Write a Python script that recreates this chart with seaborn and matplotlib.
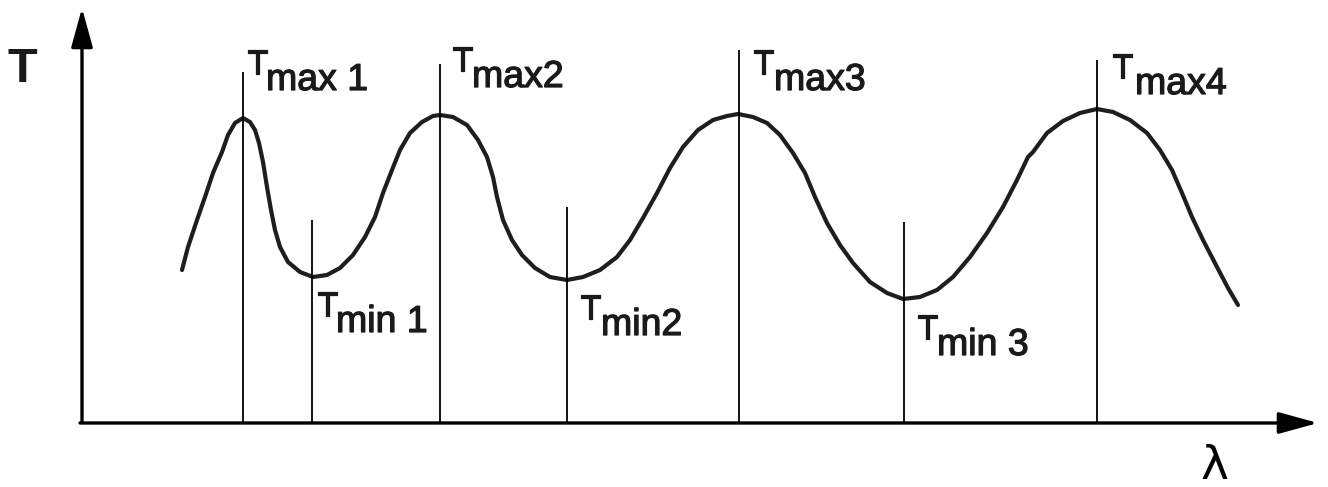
import matplotlib
matplotlib.use("Agg")
import matplotlib.pyplot as plt
import matplotlib.patheffects as pe
import pandas as pd
import seaborn as sns

# Transmission curve T(λ), arbitrary units (λ from the origin, T above the λ axis)
wavelength = [102, 108, 117, 125, 133, 142, 148, 155, 163, 170, 175, 179, 183, 187,
              191, 195, 200, 208, 220, 233, 247, 260, 273, 285, 295, 303, 312, 320,
              330, 342, 353, 360,
              373, 387, 398, 407, 413, 417, 423, 432, 442, 455, 470, 487, 503, 520,
              537, 550, 563, 577, 590, 603, 618, 633, 647, 658,
              673, 687, 700, 713, 725, 735, 747, 760, 773, 790, 807, 823, 840, 857,
              873, 890, 907, 923, 937, 948,
              953, 967, 983, 1000, 1017, 1033, 1050, 1067, 1080, 1092, 1102, 1112,
              1123, 1137, 1148, 1158]
transmission = [152, 175, 202, 225, 249, 270, 287, 299, 304, 300, 292, 279, 260, 235,
                212, 192, 175, 160, 150, 145, 147, 154, 167, 185, 205, 229, 252, 272,
                289, 300, 306, 307,
                305, 297, 282, 265, 245, 225, 202, 182, 167, 154, 145, 142, 145, 152,
                165, 182, 204, 229, 254, 275, 292, 302, 306, 308,
                305, 299, 287, 269, 249, 225, 199, 177, 159, 140, 129, 123, 125, 132,
                145, 165, 189, 215, 242, 265,
                270, 289, 301, 309, 313, 310, 302, 289, 272, 252, 229, 205,
                182, 155, 134, 117]

# Extremum markers: name, position on λ axis, height of the marker line
extrema = ["max 1", "min 1", "max2", "min2", "max3", "min 3", "max4"]
extrema_pos = [163, 232, 360, 487, 659, 824, 1017]
extrema_line_top = [350, 202, 358, 215, 372, 200, 362]

# Label anchors (left edge of the "T", top of the "T")
label_x = [167, 237, 372, 500, 673, 837, 1032]
label_top = [374, 132, 377, 129, 374, 109, 370]
sub_dx = [19, 19, 20, 21, 21, 20, 23]

sns.set_theme(style="white")
plt.rcParams["font.family"] = ["Liberation Sans", "DejaVu Sans"]

fig = plt.figure(figsize=(13.28, 4.87), dpi=100)
ax = fig.add_axes([0, 0, 1, 1])
ax.set_xlim(-80, 1248)
ax.set_ylim(-65, 422)
ax.axis("off")

df = pd.DataFrame({"λ": wavelength, "T": transmission})
sns.lineplot(data=df, x="λ", y="T", ax=ax, sort=False, estimator=None,
             color="#1e1e1e", linewidth=3.0, solid_capstyle="round",
             solid_joinstyle="round")

# vertical marker lines at the extrema
ax.vlines(extrema_pos, 0, extrema_line_top, color="black", linewidth=1.3)

# axes with arrow heads
arrow_style = "-|>,head_length=0.8,head_width=0.22"
ax.annotate("", xy=(2, 414), xytext=(2, 0),
            arrowprops=dict(arrowstyle=arrow_style, mutation_scale=30,
                            color="black", lw=2.4, shrinkA=0, shrinkB=0))
ax.annotate("", xy=(1238, -1), xytext=(0, -1),
            arrowprops=dict(arrowstyle=arrow_style, mutation_scale=30,
                            color="black", lw=2.4, shrinkA=0, shrinkB=0))

# axis names
ax.text(-72, 375, "T", fontsize=35, fontweight="bold", ha="left", va="top",
        color="#1a1a1a")
ax.text(1121, -22, "λ", fontsize=34, ha="left", va="top", color="black",
        family=["DejaVu Sans"])

# T_max / T_min labels, slightly heavier than the regular face
heavy = [pe.withStroke(linewidth=0.9, foreground="#1a1a1a")]
for name, lx, top, dx in zip(extrema, label_x, label_top, sub_dx):
    ax.annotate("T", xy=(lx, top), xytext=(0, 0), textcoords="offset pixels",
                fontsize=25, ha="left", va="top", color="#1a1a1a",
                path_effects=heavy)
    ax.annotate(name, xy=(lx, top), xytext=(dx, -42), textcoords="offset pixels",
                fontsize=27, ha="left", va="baseline", color="#1a1a1a",
                path_effects=heavy)

fig.savefig("out.png", dpi=100, facecolor="white")
